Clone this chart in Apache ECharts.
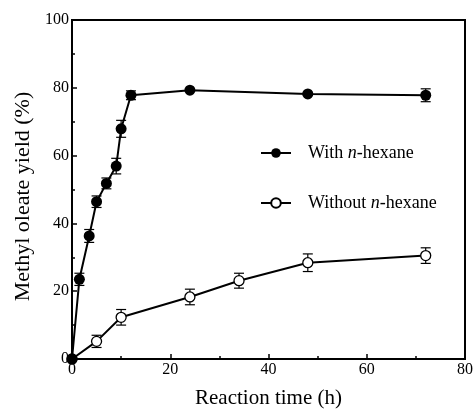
<!DOCTYPE html>
<html><head><meta charset="utf-8">
<script src="https://cdn.jsdelivr.net/npm/echarts@6/dist/echarts.min.js"></script>
<style>html,body{margin:0;padding:0;background:#fff}#c{width:476px;height:414px}</style>
</head><body><div id="c"></div>
<script>
const withTime = [0, 1.5, 3.5, 5, 7, 9, 10, 12, 24, 48, 72];
const withYield = [0, 23.5, 36.3, 46.4, 51.8, 56.9, 67.9, 77.8, 79.3, 78.2, 77.8];
const withErr = [0, 1.8, 1.9, 1.7, 1.6, 2.3, 2.5, 1.3, 0.4, 0.4, 1.9];
const withoutTime = [0, 5, 10, 24, 34, 48, 72];
const withoutYield = [0, 5.2, 12.3, 18.3, 23.1, 28.4, 30.5];
const withoutErr = [0, 1.8, 2.3, 2.3, 2.2, 2.6, 2.3];
const xTicks = [0, 20, 40, 60, 80];
const yTicks = [0, 20, 40, 60, 80, 100];

const font = 'Liberation Serif';
const chart = echarts.init(document.getElementById('c'), null, {renderer: 'canvas'});

function pts(t, v) { return t.map((x, i) => [x, v[i]]); }
function errData(t, v, e) { return t.map((x, i) => [x, v[i] - e[i], v[i] + e[i]]); }
function errSeries(data) {
  return {
    type: 'custom', data: data, clip: false, z: 1, silent: true,
    renderItem: function (params, api) {
      const x = api.value(0), lo = api.value(1), hi = api.value(2);
      if (hi - lo < 0.01) return null;
      const p1 = api.coord([x, lo]), p2 = api.coord([x, hi]);
      const w = 5;
      const st = {stroke: '#000', lineWidth: 1.2};
      return {type: 'group', children: [
        {type: 'line', shape: {x1: p1[0], y1: p1[1], x2: p2[0], y2: p2[1]}, style: st},
        {type: 'line', shape: {x1: p1[0] - w, y1: p1[1], x2: p1[0] + w, y2: p1[1]}, style: st},
        {type: 'line', shape: {x1: p2[0] - w, y1: p2[1], x2: p2[0] + w, y2: p2[1]}, style: st}
      ]};
    }
  };
}

chart.setOption({
  animation: false,
  backgroundColor: '#fff',
  grid: {left: 72, right: 8, top: 20, bottom: 53, show: true, borderColor: '#000', borderWidth: 2, backgroundColor: 'transparent'},
  legend: {
    orient: 'vertical', left: 255, top: 139, itemGap: 32, itemWidth: 30, itemHeight: 12,
    data: ['With', 'Without'],
    formatter: function (n) { return n === 'With' ? '{a|With }{i|n}{a|-hexane}' : '{a|Without }{i|n}{a|-hexane}'; },
    textStyle: {
      padding: [0, 0, 0, 12],
      rich: {
        a: {fontFamily: font, fontSize: 18, color: '#000'},
        i: {fontFamily: font, fontSize: 18, fontStyle: 'italic', color: '#000'}
      }
    }
  },
  xAxis: {
    type: 'value', min: 0, max: 80, interval: 20,
    name: 'Reaction time (h)', nameLocation: 'middle', nameGap: 29,
    nameTextStyle: {fontFamily: font, fontSize: 21, color: '#000'},
    axisLine: {onZero: false, lineStyle: {color: '#000', width: 2}},
    axisTick: {inside: true, length: 5, lineStyle: {color: '#000', width: 1.5}},
    minorTick: {show: true, splitNumber: 2, length: 3, lineStyle: {color: '#000', width: 1.5}},
    axisLabel: {fontFamily: font, fontSize: 16, color: '#000', margin: 3,
      customValues: xTicks},
    splitLine: {show: false}
  },
  yAxis: {
    type: 'value', min: 0, max: 100, interval: 20,
    name: 'Methyl oleate yield (%)', nameLocation: 'middle', nameGap: 32,
    nameTextStyle: {fontFamily: font, fontSize: 22, color: '#000', padding: [0, 14, 0, 0]},
    axisLine: {onZero: false, lineStyle: {color: '#000', width: 2}},
    axisTick: {inside: true, length: 5, lineStyle: {color: '#000', width: 1.5}},
    minorTick: {show: true, splitNumber: 2, length: 3, lineStyle: {color: '#000', width: 1.5}},
    axisLabel: {fontFamily: font, fontSize: 16, color: '#000', margin: 3,
      customValues: yTicks},
    splitLine: {show: false}
  },
  series: [
    errSeries(errData(withoutTime, withoutYield, withoutErr)),
    errSeries(errData(withTime, withYield, withErr)),
    {
      name: 'Without', type: 'line', data: pts(withoutTime, withoutYield), z: 3,
      symbol: 'circle', symbolSize: 10, showAllSymbol: true, clip: false,
      lineStyle: {color: '#000', width: 2},
      itemStyle: {color: '#fff', borderColor: '#000', borderWidth: 1.3}
    },
    {
      name: 'With', type: 'line', data: pts(withTime, withYield), z: 4,
      symbol: 'circle', symbolSize: 11, showAllSymbol: true, clip: false,
      lineStyle: {color: '#000', width: 2},
      itemStyle: {color: '#000', borderColor: '#000', borderWidth: 0}
    }
  ]
});
</script></body></html>
